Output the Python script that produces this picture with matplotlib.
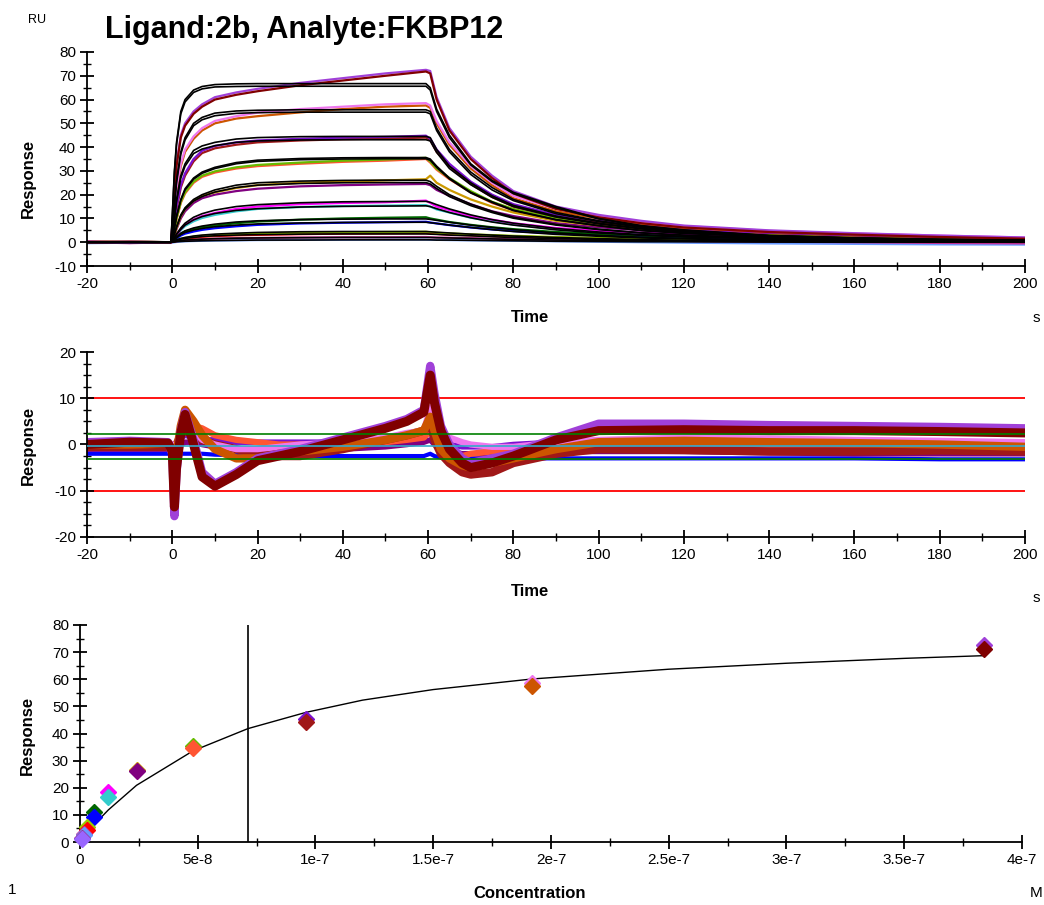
import matplotlib
matplotlib.use("Agg")
import matplotlib.pyplot as plt
from matplotlib.ticker import MultipleLocator, FixedLocator, FixedFormatter
from matplotlib.transforms import Bbox

plt.rcParams['font.family'] = ['Liberation Sans', 'DejaVu Sans']
plt.rcParams['axes.unicode_minus'] = False

# ---------------- Panel 1 : sensorgrams ----------------
t_grid = [-20, -10, -0.3, 0.5, 1, 2, 3, 5, 7, 10, 15, 20, 30, 40, 50, 59.5,
          60.5, 62, 65, 70, 75, 80, 90, 100, 110, 120, 140, 160, 180, 200]

c1a = [0.3, -0.2, 0, 19, 33, 45, 50, 55, 58, 61, 63, 64.5, 67, 69, 71, 72.5, 72, 61, 48, 36, 28, 21.5, 15, 11.5, 9, 7, 5, 3.8, 2.8, 2.0]
c1b = [0, 0.2, 0, 18, 32, 44, 49, 54, 57, 60, 62, 63.5, 66, 68, 70, 71.8, 71, 60, 47, 35, 27, 20.5, 14, 10.5, 8, 6.2, 4.3, 3.2, 2.2, 1.5]
c2a = [0, 0.3, 0, 12.5, 23, 33, 39, 44.5, 48, 51, 53, 54.5, 56, 57, 58, 58.5, 57.5, 51, 42, 32, 25, 19.5, 14, 11, 8.5, 6.8, 4.8, 3.7, 2.8, 2.0]
c2b = [0.2, 0, 0, 12, 22, 32, 38, 43.5, 47, 50, 52, 53, 54.6, 56, 57, 57.5, 56.5, 50, 41, 31, 24, 18.5, 13, 10, 7.8, 6.0, 4.3, 3.3, 2.4, 1.7]
c3a = [0, -0.3, 0, 8, 15, 24, 29, 35, 38.5, 40.5, 42, 42.8, 43.5, 44, 44.3, 44.8, 43.5, 39, 33, 25.5, 20, 16, 11.5, 9, 7, 5.5, 4, 3, 2.3, 1.7]
c3b = [0.3, 0, 0, 7.5, 14, 23, 28, 34, 37.5, 39.5, 41, 42, 42.8, 43.3, 43.6, 44, 43, 38, 32, 24.5, 19, 15, 10.8, 8.5, 6.6, 5.2, 3.8, 2.8, 2.1, 1.5]
c4a = [0, 0.3, 0, 5, 10, 17, 21, 25.5, 28, 29.8, 31.5, 32.5, 33.5, 34.3, 34.8, 35.5, 34, 31, 27, 21.5, 17, 14, 10, 8, 6.3, 5.0, 3.5, 2.7, 2.0, 1.5]
c4b = [-0.2, 0, 0, 4.8, 9.5, 16.5, 20.5, 25, 27.5, 29.3, 31, 32, 33, 33.8, 34.3, 35, 33.5, 30.5, 26.5, 21, 16.5, 13.5, 9.7, 7.7, 6, 4.8, 3.3, 2.5, 1.8, 1.3]
c5a = [0.2, 0, 0, 3, 6, 11, 14, 17.5, 19.5, 21, 22.8, 24, 25, 25.5, 26, 26.5, 28, 25, 22, 18, 15, 12.5, 9, 7, 5.5, 4.5, 3.2, 2.5, 1.8, 1.3]
c5b = [0, -0.2, 0, 2.8, 5.5, 10, 13, 16.5, 18.5, 20, 21.5, 22.5, 23.5, 24, 24.3, 24.5, 24, 22, 19.5, 16, 13, 11, 8, 6.3, 5, 4, 2.8, 2.2, 1.6, 1.1]
c6a = [0, 0.2, 0, 1.5, 3, 5.5, 7.5, 9.5, 11, 12.3, 14, 15, 16, 16.5, 16.8, 17.5, 16.5, 15, 13.5, 11, 9.5, 8, 6, 4.8, 4, 3.3, 2.5, 2, 1.5, 1.0]
c6b = [0.2, 0, 0, 1.3, 2.7, 5, 6.8, 8.8, 10.2, 11.5, 13, 14, 14.8, 15.2, 15.4, 15.6, 15, 13.8, 12.5, 10.3, 8.8, 7.4, 5.6, 4.5, 3.7, 3.0, 2.2, 1.8, 1.3, 0.9]
c7a = [0, 0.2, 0, 1, 2, 3.5, 4.5, 5.5, 6.3, 7, 8, 8.7, 9.5, 10, 10.3, 10.5, 10, 9.5, 8.5, 7.3, 6.3, 5.5, 4.3, 3.5, 2.8, 2.3, 1.7, 1.3, 1.0, 0.8]
c7b = [0.1, -0.2, 0, 0.8, 1.6, 2.8, 3.6, 4.5, 5.2, 5.9, 6.7, 7.3, 7.9, 8.2, 8.4, 8.6, 8.3, 7.9, 7.2, 6.2, 5.4, 4.7, 3.7, 3.0, 2.4, 2.0, 1.4, 1.1, 0.8, 0.6]
c8a = [0, 0.2, 0, 0.4, 0.8, 1.4, 1.8, 2.3, 2.7, 3.0, 3.4, 3.7, 4.0, 4.2, 4.3, 4.4, 4.2, 4.0, 3.7, 3.3, 3.0, 2.7, 2.2, 1.8, 1.5, 1.2, 0.9, 0.6, 0.4, 0.3]
c8b = [0.2, 0, 0, 0.3, 0.7, 1.2, 1.5, 1.9, 2.3, 2.6, 2.9, 3.1, 3.4, 3.6, 3.7, 3.8, 3.7, 3.5, 3.2, 2.9, 2.6, 2.4, 1.9, 1.6, 1.3, 1.1, 0.7, 0.5, 0.3, 0.2]
c9a = [0, -0.4, 0, 0.2, 0.4, 0.7, 0.9, 1.1, 1.3, 1.5, 1.7, 1.8, 2.0, 2.1, 2.1, 2.2, 2.1, 2.0, 1.9, 1.7, 1.5, 1.4, 1.1, 0.9, 0.7, 0.5, 0.2, 0.0, -0.3, -0.5]
c9b = [-0.4, -0.2, -0.3, 0, 0.1, 0.3, 0.4, 0.5, 0.6, 0.7, 0.8, 0.9, 1.0, 1.0, 1.1, 1.1, 1.0, 1.0, 0.9, 0.8, 0.7, 0.6, 0.4, 0.2, 0.0, -0.2, -0.5, -0.7, -0.9, -1.0]

f1a = [0, 0, 0, 30, 42, 55, 60, 64, 65.5, 66.3, 66.6, 66.7, 66.7, 66.7, 66.7, 66.7, 65, 56, 45, 33, 26, 21, 15, 10, 7, 5.2, 2.8, 1.8, 1.2, 0.8]
f1b = [0, 0, 0, 29, 41, 54, 59, 63, 64.5, 65.3, 65.5, 65.6, 65.6, 65.6, 65.6, 65.6, 64, 55, 44, 32.5, 25.5, 20.5, 14.5, 9.8, 6.8, 5.0, 2.7, 1.7, 1.1, 0.7]
f2a = [0, 0, 0, 16, 26, 38, 44, 50, 52.5, 54.3, 55.2, 55.5, 55.7, 55.7, 55.7, 55.7, 55, 48, 39, 29.5, 23, 18, 12.5, 9, 6.5, 4.8, 2.8, 1.8, 1.2, 0.8]
f2b = [0, 0, 0, 15, 25, 37, 43, 49, 51.5, 53.2, 54.2, 54.5, 54.7, 54.7, 54.7, 54.7, 54, 47, 38, 28.5, 22, 17.5, 12, 8.7, 6.3, 4.6, 2.7, 1.7, 1.1, 0.7]
f3a = [0, 0, 0, 10, 18, 28, 33, 38.6, 40.5, 42, 43.4, 44, 44.4, 44.5, 44.5, 44.5, 44, 39, 32, 25, 19.5, 15.5, 11, 8, 5.8, 4.3, 2.5, 1.6, 1.0, 0.7]
f3b = [0, 0, 0, 9.5, 17, 27, 32, 37.3, 39.2, 40.6, 42, 42.6, 43, 43.1, 43.1, 43.1, 42.6, 37.8, 31, 24.2, 18.9, 15, 10.6, 7.7, 5.6, 4.1, 2.4, 1.5, 1.0, 0.7]
f4a = [0, 0, 0, 6, 11, 18, 22.5, 27, 29.5, 31.5, 33.5, 34.5, 35.2, 35.5, 35.6, 35.6, 35, 32, 27, 21, 17, 13.5, 9.5, 7, 5, 3.8, 2.3, 1.4, 0.9, 0.6]
f4b = [0, 0, 0, 5.8, 10.7, 17.6, 22, 26.5, 29, 31, 33, 34, 34.7, 35, 35.1, 35.1, 34.5, 31.5, 26.6, 20.7, 16.7, 13.3, 9.4, 6.9, 4.9, 3.7, 2.2, 1.4, 0.9, 0.6]
f5a = [0, 0, 0, 3.5, 6.5, 11.5, 14.5, 18, 20, 22, 24, 25, 25.7, 26, 26.1, 26.1, 25.5, 23.5, 20, 16, 13, 10.5, 7.5, 5.5, 4, 3, 1.8, 1.1, 0.7, 0.5]
f5b = [0, 0, 0, 3.3, 6.2, 11, 13.9, 17.3, 19.2, 21.1, 23, 24, 24.7, 25, 25.1, 25.1, 24.5, 22.6, 19.2, 15.4, 12.5, 10.1, 7.2, 5.3, 3.9, 2.9, 1.7, 1.1, 0.7, 0.5]
f6a = [0, 0, 0, 2, 3.5, 6, 8, 10.5, 12, 13.5, 15, 15.8, 16.6, 17, 17.1, 17.2, 16.8, 15.8, 14, 11.5, 9.5, 8, 5.8, 4.3, 3.2, 2.5, 1.5, 1.0, 0.6, 0.4]
f6b = [0, 0, 0, 1.8, 3.2, 5.4, 7.2, 9.4, 10.8, 12.1, 13.4, 14.1, 14.8, 15.1, 15.2, 15.3, 15, 14.1, 12.5, 10.3, 8.5, 7.2, 5.2, 3.9, 2.9, 2.2, 1.4, 0.9, 0.6, 0.4]
f7a = [0, 0, 0, 1.2, 2.2, 3.8, 4.8, 6, 6.8, 7.6, 8.5, 9.0, 9.5, 9.7, 9.8, 9.8, 9.6, 9.2, 8.4, 7.2, 6.2, 5.3, 3.9, 2.9, 2.1, 1.6, 0.9, 0.6, 0.4, 0.3]
f7b = [0, 0, 0, 1, 1.9, 3.2, 4.1, 5.1, 5.8, 6.5, 7.2, 7.7, 8.1, 8.3, 8.4, 8.4, 8.2, 7.9, 7.2, 6.2, 5.3, 4.5, 3.3, 2.5, 1.8, 1.4, 0.8, 0.5, 0.3, 0.2]
f8a = [0, 0, 0, 0.5, 1, 1.6, 2.0, 2.6, 3.0, 3.4, 3.8, 4.1, 4.4, 4.5, 4.5, 4.5, 4.4, 4.2, 3.9, 3.4, 3.0, 2.6, 2.0, 1.5, 1.1, 0.8, 0.5, 0.3, 0.2, 0.1]
f8b = [0, 0, 0, 0.4, 0.8, 1.3, 1.6, 2.0, 2.4, 2.7, 3.0, 3.2, 3.4, 3.5, 3.5, 3.5, 3.4, 3.3, 3.0, 2.7, 2.3, 2.0, 1.5, 1.2, 0.9, 0.6, 0.4, 0.2, 0.1, 0.1]
f9a = [0, 0, 0, 0.2, 0.4, 0.7, 0.9, 1.1, 1.3, 1.5, 1.7, 1.8, 1.9, 2.0, 2.0, 2.0, 2.0, 1.9, 1.8, 1.6, 1.4, 1.2, 0.9, 0.7, 0.5, 0.4, 0.2, 0.1, 0.1, 0.0]
f9b = [0, 0, 0, 0.1, 0.2, 0.3, 0.4, 0.5, 0.6, 0.7, 0.8, 0.9, 0.9, 1.0, 1.0, 1.0, 1.0, 0.9, 0.9, 0.8, 0.7, 0.6, 0.4, 0.3, 0.2, 0.2, 0.1, 0.0, 0.0, 0.0]

data_curves = [c9b, c9a, c8b, c8a, c7b, c7a, c6b, c6a, c5b, c5a, c4b, c4a, c3b, c3a, c2b, c2a, c1a, c1b]
data_colors = ['#6699FF', '#CC3399', '#FF0000', '#99CC00', '#0000FF', '#006600', '#33CCCC', '#FF00FF',
               '#800080', '#CC9900', '#FF5533', '#66BB00', '#A01818', '#7A10D0', '#CC5500', '#EE77EE',
               '#A040D8', '#800000']
fit_curves = [f9b, f9a, f8b, f8a, f7b, f7a, f6b, f6a, f5b, f5a, f4b, f4a, f3b, f3a, f2b, f2a, f1b, f1a]

# ---------------- Panel 2 : residuals ----------------
tr_grid = [-20, -10, -1, 0, 0.5, 1, 2, 3, 5, 7, 10, 15, 20, 25, 30, 40, 50, 55, 59,
           60.5, 61.5, 63, 65, 68, 70, 75, 80, 90, 100, 120, 140, 160, 180, 200]
r_purple1 = [0.5, 0.8, 0.5, -2, -15.5, -6, 3, 7, 1, -6, -8.5, -6, -3, -2, -1, 1.5, 4, 5.5, 7.5, 17, 11, 4, 0, -3, -4, -3, -2, 1.5, 4.5, 4.5, 4.2, 4, 3.8, 3.5]
r_darkred1 = [0, 0.5, 0.3, -1.5, -13.5, -5, 2.5, 6.5, 0, -7, -9, -6.5, -3.5, -2.5, -1.5, 1.0, 3.5, 5, 7, 15, 9, 3, -1, -4, -5, -4, -2.5, 1, 3, 3.2, 3, 3, 2.8, 2.5]
r_orange2 = [0, 0, 0.2, -1, -7, -2, 4, 7.5, 5, 2, -1, -3, -3, -2, -1.5, -0.5, 1, 2, 3, 6, 3, -1, -3, -4.5, -5, -4, -3, -1, 0.5, 0.8, 0.5, 0.3, 0, -0.5]
r_pink2 = [0.5, 0.3, 0.5, 0, -5, -1, 3, 5, 3, 1, 0, -1, -1, -0.5, 0, 0.5, 1.5, 2.5, 3, 8, 4, 2, 1.5, 0.5, 0, -0.5, -0.5, 0.5, 1, 1.5, 1.3, 1.0, 0.8, 0.5]
r_brown3 = [-0.5, -0.5, -0.5, -1, -4, 0, 2, 3, 2, 1, 0, -1, -2, -2.5, -2.5, -1, 1, 2, 3, 5, 1, -2, -4, -6, -6.5, -6, -4, -2, -1, -1.2, -1.5, -1.5, -1.3, -1.5]
r_orangered4 = [0, 0, 0, 0, -3, 0, 2, 3, 4, 3.5, 2, 1, 0.5, 0, 0, 0, 0.5, 1, 1.5, 3, 1, -1, -2, -2.5, -2, -1.5, -1, -0.5, -0.5, -0.5, -0.5, -0.5, -0.5, -0.5]
r_violet3 = [0.5, 0.5, 0.5, 0, -3, 0, 1.5, 2, 1.5, 1, 1, 0.5, 0.5, 0.5, 0.5, 0.5, 1, 1.5, 2, 4, 1.5, 0.5, 0, -0.5, -0.5, -0.5, 0, 0.5, 0.5, 0.5, 0.5, 0.5, 0.5, 0.5]
r_purple5 = [-1, -1, -1, -1, -2, -1, 0, 0.5, 0.5, 0, -0.5, -1, -1, -1, -1, -1, -0.5, 0, 0.5, 1, 0, -1, -1.5, -2, -2, -2, -1.8, -1.5, -1.5, -1.5, -1.8, -2, -2, -2]
r_blue7 = [-2, -2, -2, -2, -2.5, -2, -2, -2, -2, -2, -2.2, -2.3, -2.4, -2.5, -2.5, -2.5, -2.5, -2.5, -2.5, -2, -2.5, -2.8, -3, -3, -3, -3, -3, -3, -3, -3, -3, -3, -3.2, -3.2]
res_curves = [r_blue7, r_purple5, r_violet3, r_orangered4, r_brown3, r_pink2, r_orange2, r_purple1, r_darkred1]
res_colors = ['#0000FF', '#800080', '#7A10D0', '#FF5533', '#A01818', '#EE77EE', '#CC5500', '#A040D8', '#800000']
res_widths = [3, 4, 4, 4.5, 6, 4.5, 6, 6, 6.5]
limit_levels = [10, -10]
flat_levels = [2.3, -0.3, -3.1]
flat_colors = ['#008000', '#33AACC', '#008000']

# ---------------- Panel 3 : steady state affinity ----------------
conc = [3.84e-7, 3.84e-7, 1.92e-7, 1.92e-7, 9.6e-8, 9.6e-8, 4.8e-8, 4.8e-8,
        2.4e-8, 2.4e-8, 1.2e-8, 1.2e-8, 6e-9, 6e-9, 3e-9, 3e-9, 1.5e-9, 1.5e-9, 7.5e-10, 7.5e-10]
req = [72.8, 71.0, 58.5, 57.5, 45.5, 44.3, 35.3, 34.5, 26.7, 26.2,
       18.3, 16.6, 11.2, 9.4, 5.5, 4.4, 3.0, 2.4, 1.6, 1.2]
pt_colors = ['#A040D8', '#800000', '#EE77EE', '#CC5500', '#7A10D0', '#A01818', '#66BB00', '#FF5533',
             '#CC9900', '#800080', '#FF00FF', '#33CCCC', '#006600', '#0000FF', '#99CC00', '#FF0000',
             '#CC3399', '#6699FF', '#993399', '#9966FF']
fit_conc = [0, 7.5e-10, 1.5e-9, 3e-9, 6e-9, 1.2e-8, 2.4e-8, 4.8e-8, 7.13e-8, 9.6e-8,
            1.2e-7, 1.5e-7, 1.92e-7, 2.5e-7, 3e-7, 3.5e-7, 3.84e-7]
fit_req = [0, 0.9, 1.7, 3.3, 6.4, 11.8, 20.9, 33.6, 41.8, 47.8, 52.3, 56.2, 60.1, 63.7, 65.9, 67.7, 68.7]
kd_value = 7.13e-8
conc_ticks = [0, 5e-8, 1e-7, 1.5e-7, 2e-7, 2.5e-7, 3e-7, 3.5e-7, 4e-7]
conc_tick_labels = ['0', '5e-8', '1e-7', '1.5e-7', '2e-7', '2.5e-7', '3e-7', '3.5e-7', '4e-7']

# ---------------- drawing ----------------
W, H = 1044, 905
fig = plt.figure(figsize=(W / 100, H / 100), dpi=100)


def px_axes(x0, y0, x1, y1):
    return fig.add_axes([x0 / W, 1 - y1 / H, (x1 - x0) / W, (y1 - y0) / H])


def style(ax):
    for s in ('top', 'right'):
        ax.spines[s].set_visible(False)
    for s in ('left', 'bottom'):
        ax.spines[s].set_linewidth(1.3)
    ax.tick_params(which='major', direction='inout', length=10, width=1.3, labelsize=11, pad=3)
    ax.tick_params(which='minor', direction='inout', length=6, width=1.0)


def ftext(x, y, s, **kw):
    return fig.text(x / W, 1 - y / H, s, **kw)


ax1 = px_axes(87, 52, 1025, 266)
for ys, col in zip(data_curves, data_colors):
    ax1.plot(t_grid, ys, color=col, lw=1.6, zorder=2)
for ys in fit_curves:
    ax1.plot(t_grid, ys, color='black', lw=1.2, zorder=3)
ax1.set_xlim(-20, 200)
ax1.set_ylim(-10, 80)
ax1.xaxis.set_major_locator(MultipleLocator(20))
ax1.xaxis.set_minor_locator(MultipleLocator(10))
ax1.yaxis.set_major_locator(MultipleLocator(10))
ax1.yaxis.set_minor_locator(MultipleLocator(5))
style(ax1)

ax2 = px_axes(87, 352, 1025, 537)
for lv in limit_levels:
    ax2.axhline(lv, color='#FF0000', lw=1.3, zorder=1)
for ys, col, lw in zip(res_curves, res_colors, res_widths):
    ax2.plot(tr_grid, ys, color=col, lw=lw, zorder=2, solid_capstyle='round', solid_joinstyle='round')
for lv, col in zip(flat_levels, flat_colors):
    ax2.axhline(lv, color=col, lw=1.2, zorder=3)
ax2.set_xlim(-20, 200)
ax2.set_ylim(-20, 20)
ax2.xaxis.set_major_locator(MultipleLocator(20))
ax2.xaxis.set_minor_locator(MultipleLocator(10))
ax2.yaxis.set_major_locator(MultipleLocator(10))
ax2.yaxis.set_minor_locator(MultipleLocator(2.5))
style(ax2)

ax3 = px_axes(80, 625, 1022, 842)
ax3.plot(fit_conc, fit_req, color='black', lw=1.0, zorder=2)
ax3.axvline(kd_value, color='black', lw=1.2, zorder=2)
for c, r, col in zip(conc, req, pt_colors):
    ax3.plot([c], [r], marker='D', ms=8, color=col, mec=col, zorder=3, clip_on=False)
ax3.set_xlim(0, 4e-7)
ax3.set_ylim(0, 80)
ax3.xaxis.set_major_locator(FixedLocator(conc_ticks))
ax3.xaxis.set_major_formatter(FixedFormatter(conc_tick_labels))
ax3.xaxis.set_minor_locator(MultipleLocator(2.5e-8))
ax3.yaxis.set_major_locator(MultipleLocator(10))
ax3.yaxis.set_minor_locator(MultipleLocator(5))
style(ax3)

# texts
ftext(105, 30, 'Ligand:2b, Analyte:FKBP12', fontsize=22, fontweight='bold', ha='left', va='center')
ftext(37, 20, 'RU', fontsize=9, ha='center', va='center')
# partially hidden "RU" unit labels of the lower panels (only the bottom edge shows)
for ytop in (326, 606):
    tx = ftext(37, ytop - 4, 'RU', fontsize=9, ha='center', va='center')
    tx.set_clip_box(Bbox.from_extents(0, 0, W, H - ytop))
    tx.set_clip_on(True)
lab = dict(fontsize=12, fontweight='bold', ha='center', va='center')
ftext(28, 178, 'Response', rotation=90, **lab)
ftext(28, 445, 'Response', rotation=90, **lab)
ftext(27, 735, 'Response', rotation=90, **lab)
ftext(530, 318, 'Time', **lab)
ftext(530, 591, 'Time', **lab)
ftext(530, 893, 'Concentration', **lab)
ftext(1033, 318, 's', fontsize=11, ha='left', va='center')
ftext(1033, 598, 's', fontsize=11, ha='left', va='center')
ftext(1030, 893, 'M', fontsize=11, ha='left', va='center')
ftext(12, 890, '1', fontsize=11, ha='center', va='center')

fig.savefig('out.png', dpi=100)
